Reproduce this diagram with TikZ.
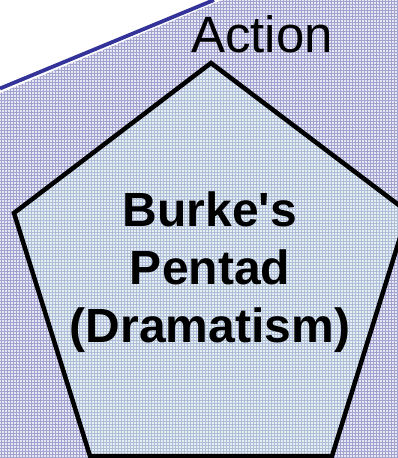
\documentclass[tikz,border=0pt]{standalone}
\usepackage{fontspec}
\setmainfont{Liberation Sans}
\definecolor{backfill}{HTML}{E6E6F4}
\definecolor{backgrid}{HTML}{A2A2CE}
\definecolor{pentfill}{HTML}{E6EEF2}
\definecolor{pentgrid}{HTML}{AEBDD8}
\definecolor{rulecol}{HTML}{333399}

\begin{document}
\begin{tikzpicture}[x=1pt,y=-1pt,
      gridline/.style={line width=0.7pt},
      outline/.style={draw=black,line width=4.5pt,line join=miter},
      corner/.style={font=\fontsize{51}{60}\selectfont,inner sep=0pt},
      title/.style={font=\fontsize{48}{58}\selectfont\bfseries,align=center,inner sep=0pt}]
    \useasboundingbox (0,0) rectangle (397,458);
    % patterned backdrop
    \fill[backfill] (0,0) rectangle (397,458);
    \foreach \gx in {1,4,...,397} \draw[gridline,backgrid] (\gx,0) -- (\gx,458);
    \foreach \gy in {1,4,...,458} \draw[gridline,backgrid] (0,\gy) -- (397,\gy);
    % white corner and blue rule
    \fill[white] (0,0) -- (222,0) -- (0,93) -- cycle;
    \coordinate (ruleL) at (0,88.5);
    \coordinate (ruleR) at (214,0);
    \draw[rulecol,line width=3.8pt] (ruleL) -- (ruleR);
    % pentagon
    \coordinate (top) at (211,63);
    \coordinate (left) at (14,213);
    \coordinate (right) at (408,212);
    \coordinate (botL) at (90,456);
    \coordinate (botR) at (332,456);
    \begin{scope}
      \clip (top) -- (right) -- (botR) -- (botL) -- (left) -- cycle;
      \fill[pentfill] (0,0) rectangle (420,470);
      \foreach \gx in {1,4,...,410} \draw[gridline,pentgrid] (\gx,0) -- (\gx,470);
      \foreach \gy in {1,4,...,470} \draw[gridline,pentgrid] (0,\gy) -- (420,\gy);
    \end{scope}
    \draw[outline] (top) -- (right) -- (botR) -- (botL) -- (left) -- cycle;
    \node[title] (pentad) at (210,272) {Burke\textquotesingle s\\Pentad\\(Dramatism)};
    \node[corner,anchor=base] (action) at (262,52) {Action};
  \end{tikzpicture}
\end{document}
